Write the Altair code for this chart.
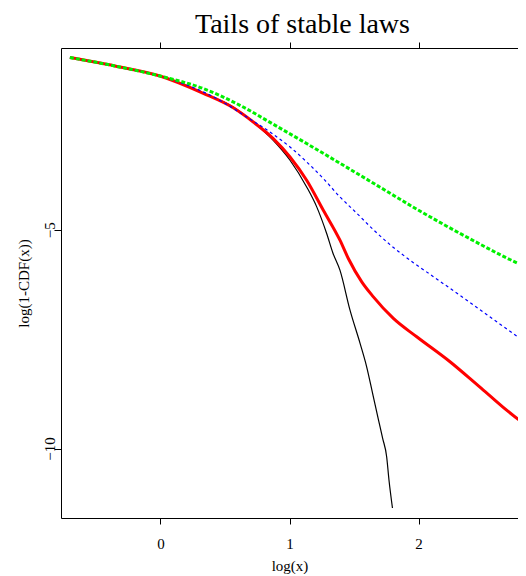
import altair as alt
import pandas as pd

# Values (log scale coordinates)
black_x = [-0.702, -0.353, -0.004, 0.332, 0.564, 0.719, 0.874, 1.004, 1.133, 1.211, 1.288, 1.337,
           1.391, 1.469, 1.547, 1.598, 1.647, 1.690, 1.722, 1.753, 1.771, 1.798]
black_y = [-1.068, -1.260, -1.489, -1.884, -2.196, -2.539, -2.957, -3.413, -4.023, -4.479, -5.087, -5.537,
           -5.925, -6.838, -7.598, -8.132, -8.779, -9.349, -9.767, -10.187, -10.719, -11.358]

red_x = [-0.702, -0.353, -0.004, 0.332, 0.564, 0.719, 0.874, 1.004, 1.133, 1.262, 1.391, 1.456,
         1.560, 1.650, 1.805, 1.986, 2.244, 2.502, 2.800, 2.833]
red_y = [-1.068, -1.260, -1.489, -1.884, -2.215, -2.539, -2.918, -3.338, -3.870, -4.555, -5.240, -5.658,
         -6.192, -6.534, -7.027, -7.447, -8.018, -8.664, -9.388, -9.452]

blue_x = [-0.702, -0.353, -0.004, 0.436, 0.668, 0.874, 1.004, 1.133, 1.262, 1.391, 1.521, 1.650,
          1.779, 1.960, 2.115, 2.374, 2.632, 2.833]
blue_y = [-1.068, -1.260, -1.489, -2.005, -2.425, -2.820, -3.110, -3.452, -3.831, -4.251, -4.623, -5.000,
          -5.342, -5.753, -6.073, -6.610, -7.158, -7.580]

green_x = [-0.702, -0.353, -0.004, 0.332, 0.616, 0.874, 1.133, 1.391, 1.702, 1.960, 2.219, 2.477,
           2.632, 2.833]
green_y = [-1.068, -1.260, -1.489, -1.776, -2.158, -2.591, -3.032, -3.482, -4.030, -4.486, -4.920, -5.331,
           -5.571, -5.856]

x_ticks = [0, 1, 2]
y_ticks = [-10, -5]

FONT = "Liberation Serif"

xscale = alt.Scale(domain=[-0.771, 2.771], nice=False, zero=False)
yscale = alt.Scale(domain=[-11.587, -0.849], nice=False, zero=False)

yaxis = alt.Axis(values=y_ticks, format="d", grid=False, tickSize=7, labelAngle=270,
                 labelAlign="center", labelBaseline="alphabetic", labelPadding=0,
                 labelFont=FONT, labelFontSize=15, title="log(1-CDF(x))", titleFont=FONT,
                 titleFontSize=15, titleFontWeight="normal", titleAngle=270, titleX=-33,
                 titleY=235, titleAlign="center", titleBaseline="alphabetic")

xaxis_bottom = alt.Axis(values=x_ticks, format="d", grid=False, tickSize=6, orient="bottom",
                        labelFont=FONT, labelFontSize=15, labelBaseline="alphabetic",
                        labelPadding=24.5, title="log(x)", titleFont=FONT, titleFontSize=15,
                        titleFontWeight="normal", titleY=52, titleBaseline="alphabetic")
xaxis_top = alt.Axis(values=x_ticks, grid=False, tickSize=6, orient="top", labels=False, title=None)


def layer(xs, ys, color, width, dash, xaxis):
    df = pd.DataFrame({"x": xs, "y": ys})
    kw = dict(color=color, strokeWidth=width, clip=True, interpolate="monotone")
    if dash:
        kw["strokeDash"] = dash
    return alt.Chart(df).mark_line(**kw).encode(
        x=alt.X("x:Q", scale=xscale, axis=xaxis),
        y=alt.Y("y:Q", scale=yscale, axis=yaxis),
        order=alt.Order("x:Q"),
    )


chart = alt.layer(
    layer(black_x, black_y, "#000000", 1.2, None, xaxis_bottom),
    layer(red_x, red_y, "#FF0000", 3, None, xaxis_top),
    layer(blue_x, blue_y, "#0000FF", 1.2, [3, 3], None),
    layer(green_x, green_y, "#00F000", 3, [4, 2], None),
).resolve_axis(x="independent").properties(
    width=457,
    height=470,
    autosize=alt.AutoSizeParams(type="none"),
    padding={"left": 53, "top": 40, "right": 0, "bottom": 56},
    title=alt.Title("Tails of stable laws", font=FONT, fontSize=28, fontWeight="normal",
                    anchor="middle", dx=13, dy=27, offset=8, baseline="alphabetic", color="black"),
).configure_view(stroke=None).configure_title(
    font=FONT, fontWeight="normal", fontSize=28, color="black"
).configure_axis(
    domainColor="black", tickColor="black", labelColor="black", titleColor="black",
    domainWidth=1, tickWidth=1,
)

chart.save("out.html", embed_options={"renderer": "svg", "actions": False})
